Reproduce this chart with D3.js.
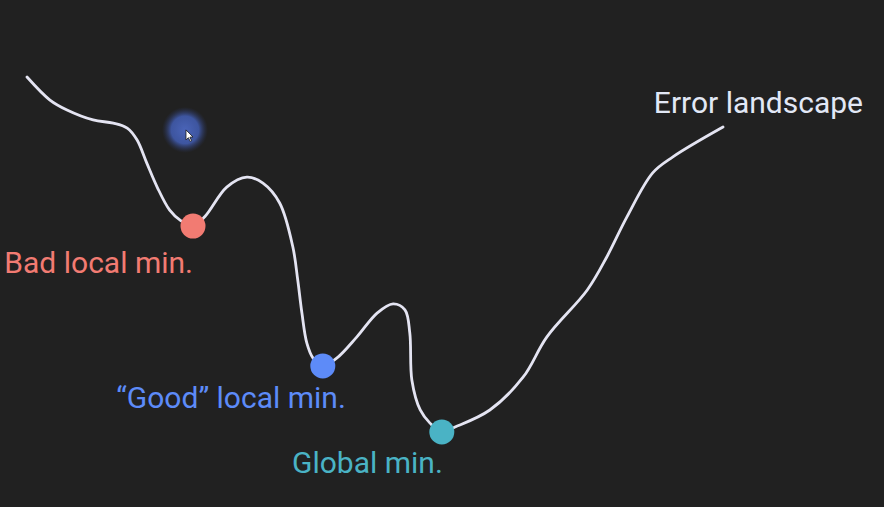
<!DOCTYPE html>
<html>
<head>
<meta charset="utf-8">
<script src="https://cdn.jsdelivr.net/npm/d3@7"></script>
<style>
  html, body { margin: 0; padding: 0; background: #212121; }
  svg { display: block; }
</style>
</head>
<body>
<div id="content"></div>
<script>
// curve of the error landscape: weight (0..100) against error (0..10)
var weights = [0, 3.3, 5.75, 9.5, 12.4, 14.4, 15.8, 17.2, 18.7, 20.5, 22.0, 23.85,
  25.6, 28.7, 31.6, 33.9, 36.3, 38.2, 38.9, 39.5, 40.2, 41.1, 42.5,
  44.5, 47.4, 50.3, 52.6, 54.3, 55.0, 55.3, 56.5, 57.9, 59.6,
  61.5, 66.5, 71.3, 74.7, 80.5, 83.3, 86.2, 89.9, 92.8, 100];
var errors = [10, 9.35, 9.07, 8.79, 8.70, 8.56, 8.23, 7.58, 6.90, 6.25, 5.97, 5.80,
  6.08, 6.90, 7.18, 7.01, 6.45, 5.21, 4.28, 3.35, 2.51, 2.08, 1.86,
  2.08, 2.68, 3.35, 3.61, 3.44, 2.79, 1.46, 0.62, 0.25, 0,
  0.14, 0.62, 1.55, 2.68, 4.00, 4.93, 6.06, 7.30, 7.75, 8.59];

// the three minima
var minLabels = ['Bad local min.', '\u201cGood\u201d local min.', 'Global min.'];
var minWeights = [23.85, 42.5, 59.6];
var minErrors = [5.80, 1.86, 0];
var minColors = ['#f27b72', '#5d8bf8', '#4ab3c5'];

var curveLabel = 'Error landscape';
var cursorAt = [22.7, 8.51];

var width = 884;
var height = 507;

var svg = d3.select('#content').append('svg')
  .attr('width', width).attr('height', height);

svg.append('rect').attr('width', width).attr('height', height).style('fill', '#212121');

var x = d3.scaleLinear().domain([0, 100]).range([27, 723]);
var y = d3.scaleLinear().domain([0, 10]).range([432, 77]);

var defs = svg.append('defs');
var glow = defs.append('radialGradient').attr('id', 'glow');
glow.append('stop').attr('offset', '0%').attr('stop-color', '#4a64b8').attr('stop-opacity', 1);
glow.append('stop').attr('offset', '60%').attr('stop-color', '#3f58a6').attr('stop-opacity', 0.95);
glow.append('stop').attr('offset', '100%').attr('stop-color', '#2a3560').attr('stop-opacity', 0);

var points = d3.zip(weights, errors);

var line = d3.line()
  .x(function(d){ return x(d[0]); })
  .y(function(d){ return y(d[1]); })
  .curve(d3.curveCatmullRom.alpha(0.5));

svg.append('path')
  .datum(points)
  .attr('d', line)
  .style('fill', 'none')
  .style('stroke', '#e4e4f2')
  .style('stroke-width', 2.8)
  .style('stroke-linecap', 'round');

svg.append('text')
  .attr('x', x(100) + 140)
  .attr('y', y(10) + 36)
  .attr('text-anchor', 'end')
  .style('font-family', 'Roboto')
  .style('font-size', '30px')
  .style('fill', '#e2e8f6')
  .text(curveLabel);

// label offsets from each dot: [dx, dy]
var labelOffsets = [[0, 47], [23, 42], [1, 41]];

var mins = svg.selectAll('.minima')
  .data(minLabels).enter().append('g')
  .attr('class', 'minima');

mins.append('circle')
  .attr('cx', function(d, i){ return x(minWeights[i]); })
  .attr('cy', function(d, i){ return y(minErrors[i]); })
  .attr('r', 12.5)
  .style('fill', function(d, i){ return minColors[i]; });

mins.append('text')
  .attr('x', function(d, i){ return x(minWeights[i]) + labelOffsets[i][0]; })
  .attr('y', function(d, i){ return y(minErrors[i]) + labelOffsets[i][1]; })
  .attr('text-anchor', 'end')
  .style('font-family', 'Roboto')
  .style('font-size', '30px')
  .style('fill', function(d, i){ return minColors[i]; })
  .text(function(d){ return d; });

// mouse highlight with pointer
var cx = x(cursorAt[0]), cy = y(cursorAt[1]);
svg.append('circle')
  .attr('cx', cx).attr('cy', cy).attr('r', 23)
  .style('fill', 'url(#glow)');

svg.append('path')
  .attr('transform', 'translate(' + (cx + 1) + ',' + (cy + 0) + ')')
  .attr('d', 'M0,0 L0,10 L2.4,7.8 L4.2,11.5 L5.6,10.8 L3.9,7.3 L7,7.1 Z')
  .style('fill', '#ffffff')
  .style('stroke', '#1a1a1a')
  .style('stroke-width', 0.8);
</script>
</body>
</html>
